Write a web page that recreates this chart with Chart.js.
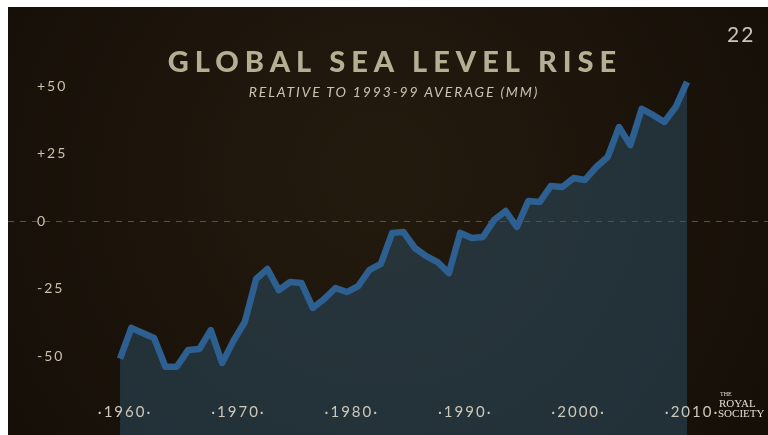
<!DOCTYPE html>
<html>
<head>
<meta charset="utf-8">
<script src="https://cdn.jsdelivr.net/npm/chart.js@4.4.1/dist/chart.umd.min.js"></script>
<style>
    html, body { margin: 0; padding: 0; background: #ffffff; }
    #wrap { position: relative; width: 768px; height: 435px; overflow: hidden; }
    #chart { position: absolute; left: 0; top: 0; }
    .txt { position: absolute; white-space: nowrap; font-family: Lato, "Open Sans", sans-serif; }
    #title { left: 0; width: 790px; top: 43px; text-align: center; font-size: 29px; font-weight: 900; letter-spacing: 6px; color: #b5ae93; }
    #subtitle { left: 0; width: 788px; top: 83px; text-align: center; font-size: 14px; font-style: italic; letter-spacing: 1.85px; color: #c8c3b0; }
    #page { left: 727px; top: 21px; font-size: 21px; letter-spacing: 2px; color: #cac6b9; }
    .logo { position: absolute; font-family: "Liberation Serif", "DejaVu Serif", serif; color: #e2ded4; white-space: nowrap; }
</style>
</head>
<body>
<div id="wrap">
    <canvas id="chart" width="768" height="435"></canvas>
    <div id="title" class="txt">GLOBAL SEA LEVEL RISE</div>
    <div id="subtitle" class="txt">RELATIVE TO 1993-99 AVERAGE (MM)</div>
    <div id="page" class="txt">22</div>
    <div class="logo" style="left:720px; top:391px; font-size:6px;">THE</div>
    <div class="logo" style="left:719px; top:397px; font-size:11px;">ROYAL</div>
    <div class="logo" style="left:718px; top:407px; font-size:11px;">SOCIETY</div>
</div>
<script>
// années et niveau de la mer (mm, relatif à la moyenne 1993-99)
const years = [
    1960, 1961, 1962, 1963, 1964, 1965, 1966, 1967, 1968, 1969,
    1970, 1971, 1972, 1973, 1974, 1975, 1976, 1977, 1978, 1979,
    1980, 1981, 1982, 1983, 1984, 1985, 1986, 1987, 1988, 1989,
    1990, 1991, 1992, 1993, 1994, 1995, 1996, 1997, 1998, 1999,
    2000, 2001, 2002, 2003, 2004, 2005, 2006, 2007, 2008, 2009, 2010
];
const seaLevel = [
    -51, -39.6, -41.5, -43.3, -54, -54, -47.8, -47.4, -40.4, -52.6,
    -44.4, -37.4, -21.5, -17.8, -25.6, -22.6, -23, -32.2, -28.9, -24.8,
    -26.3, -24.1, -18.1, -15.9, -4.4, -4.1, -10, -13, -15.2, -19.3,
    -4.4, -6.3, -5.9, 0.4, 3.7, -2.2, 7.4, 7, 13, 12.6,
    15.9, 15.2, 20, 23.7, 34.8, 28.1, 41.5, 39.3, 36.7, 42.2, 51.5
];
const xTicks = [1960, 1970, 1980, 1990, 2000, 2010];
const yTicks = [-50, -25, 0, 25, 50];

const points = years.map((y, i) => ({ x: y, y: seaLevel[i] }));

// fond sombre avec vignettage
const backgroundPlugin = {
    id: 'background',
    beforeDraw(chart) {
        const c = chart.ctx;
        const g = c.createRadialGradient(380, 170, 40, 380, 200, 520);
        g.addColorStop(0, '#231a0e');
        g.addColorStop(1, '#130d07');
        c.save();
        c.fillStyle = g;
        c.fillRect(8, 7, 760, 428);
        c.restore();
        c.letterSpacing = '2px';
    }
};

// pas de marge automatique autour de la zone du graphique
function noPadding(s) {
    s.paddingTop = 0;
    s.paddingBottom = 0;
    s.paddingLeft = 0;
    s.paddingRight = 0;
}

const ctx = document.getElementById('chart').getContext('2d');
new Chart(ctx, {
    type: 'line',
    data: {
        datasets: [{
            data: points,
            borderColor: '#2d6091',
            backgroundColor: 'rgba(44, 80, 104, 0.5)',
            borderWidth: 6.5,
            borderJoinStyle: 'round',
            pointRadius: 0,
            fill: 'start',
            tension: 0
        }]
    },
    options: {
        responsive: false,
        animation: false,
        layout: { padding: { left: 8, top: 7, right: 0, bottom: 0 } },
        plugins: {
            legend: { display: false },
            tooltip: { enabled: false }
        },
        scales: {
            x: {
                type: 'linear',
                min: 1950.12,
                max: 2017.14,
                grid: { display: false },
                border: { display: false },
                afterFit: s => { s.height = 0; noPadding(s); },
                afterBuildTicks: s => { s.ticks = xTicks.map(v => ({ value: v })); },
                ticks: {
                    z: 1,
                    mirror: true,
                    padding: 14,
                    labelOffset: 5,
                    maxRotation: 0,
                    autoSkip: false,
                    color: '#cdc8b8',
                    font: { family: 'Lato', size: 15 },
                    callback: v => '·' + v + '·'
                }
            },
            y: {
                min: -79.26,
                max: 79.26,
                afterFit: s => { s.width = 0; noPadding(s); },
                afterBuildTicks: s => { s.ticks = yTicks.map(v => ({ value: v })); },
                grid: {
                    drawTicks: false,
                    lineWidth: 1,
                    color: c => c.tick && c.tick.value === 0 ? '#5e523f' : 'transparent'
                },
                border: { display: false, dash: [6, 6] },
                ticks: {
                    mirror: true,
                    padding: 29,
                    color: '#c9c3ae',
                    font: { family: 'Lato', size: 14 },
                    callback: v => v > 0 ? '+' + v : '' + v
                }
            }
        }
    },
    plugins: [backgroundPlugin]
});
</script>
</body>
</html>
